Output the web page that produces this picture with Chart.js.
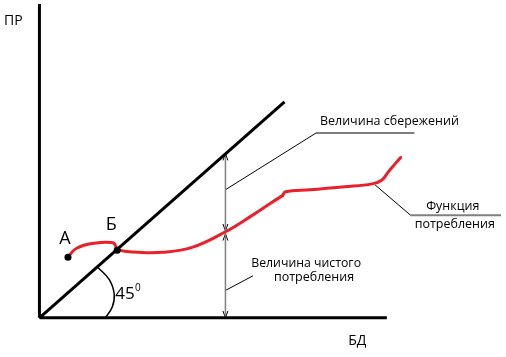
<!DOCTYPE html>
<html><head><meta charset="utf-8">
<script src="https://cdn.jsdelivr.net/npm/chart.js@4"></script>
<style>html,body{margin:0;padding:0;background:#fff}#wrap{width:506px;height:357px}</style>
</head><body><div id="wrap"><canvas id="c" width="506" height="357"></canvas></div>
<script>
// Axes (БД horizontal, ПР vertical), in diagram units from the origin
const axisX = [[0,0],[353,0]];
const axisY = [[0,0],[0,321]];
// 45° line
const line45 = [[0,0],[249,221]];
// Consumption function (red): A → Б, Б → middle, middle → end
const consumptionAB = [[29,62],[36,70],[48,75],[62,77],[73,77],[76,76],[79,69]];
const consumptionMid = [[79,69],[100,67],[125,67],[155,72],[189,88],[215,104],[236,118],[247,125]];
const consumptionEnd = [[247,125],[250,129],[275,131],[310,134],[338,137],[348,141],[355,150],[367,164]];
const pointA = [29,62];
const pointB = [79,69];
// 45° arc
const arc45 = [[67,0],[74,11],[76,24],[71,39],[59,52]];
// Measurement arrows at x = 189
const savingsArrow = [[189,168],[189,89]];
const netArrow = [[189,86],[189,0]];
const arrowTips = [[189,168,'up'],[189,89,'down'],[189,86,'up'],[189,0,'down']];
// Leader lines
const leaderSavings = [[189,131],[281,189]];
const shelfSavings = [[281,189],[381,189]];
const leaderNet = [[189,28],[217,43]];
const leaderFunc = [[341,136],[377,105]];
const shelfFunc = [[377,105],[469,105]];
// Text labels: [text, x, y, align, size]
const labels = [
  ['ПР',-36,304,'left',14],
  ['БД',323,-24,'center',14],
  ['А',26,81,'center',18],
  ['Б',73,95,'center',18],
  ['45',77,24,'left',17],
  ['0',97,30,'left',10],
  ['Величина сбережений',285,201,'left',12.5],
  ['Величина чистого',271,56,'center',12.3],
  ['потребления',279,41,'center',12.5],
  ['Функция',420,114,'center',12.5],
  ['потребления',422,95,'center',12.5]
];

const pts = a => a.map(p => ({x:p[0], y:p[1]}));
const seg = (data, color, width, extra) => Object.assign({
  data: pts(data), showLine: true, borderColor: color, borderWidth: width,
  pointRadius: 0, fill: false, tension: 0, clip: false, borderCapStyle: 'butt', order: 1
}, extra || {});
const red = {tension: 0.4, borderCapStyle: 'round', borderJoinStyle: 'round'};

const datasets = [
  seg(axisX, '#000', 3),
  seg(axisY, '#000', 3),
  seg(line45, '#000', 3),
  seg(arc45, '#000', 1.5, {tension: 0.4}),
  seg(consumptionAB, '#e8212b', 3, red),
  seg(consumptionMid, '#e8212b', 3, red),
  seg(consumptionEnd, '#e8212b', 3, red),
  seg(savingsArrow, '#7f7f7f', 1.5),
  seg(netArrow, '#7f7f7f', 1.5),
  seg(leaderSavings, '#000', 1),
  seg(shelfSavings, '#7f7f7f', 2),
  seg(leaderNet, '#000', 1),
  seg(leaderFunc, '#000', 1),
  seg(shelfFunc, '#7f7f7f', 2)
];
arrowTips.forEach(t => {
  const d = t[2] === 'up' ? -7 : 7;
  datasets.push(seg([[t[0]-2.5, t[1]+d],[t[0], t[1]],[t[0]+2.5, t[1]+d]], '#000', 1));
});
datasets.push({data: pts([pointA, pointB]), showLine: false, pointRadius: 3.5, pointBackgroundColor: '#000', pointBorderColor: '#000', pointBorderWidth: 0, clip: false, order: 0});

const textPlugin = {
  id: 'texts',
  afterDatasetsDraw(chart) {
    const ctx = chart.ctx, xs = chart.scales.x, ys = chart.scales.y;
    ctx.save();
    ctx.fillStyle = '#000';
    ctx.textBaseline = 'middle';
    labels.forEach(l => {
      ctx.font = l[4] + 'px "Open Sans", sans-serif';
      ctx.textAlign = l[3];
      ctx.fillText(l[0], xs.getPixelForValue(l[1]), ys.getPixelForValue(l[2]));
    });
    ctx.restore();
  }
};

new Chart(document.getElementById('c'), {
  type: 'scatter',
  data: {datasets},
  options: {
    responsive: false, animation: false,
    layout: {padding: 0},
    plugins: {legend: {display: false}, tooltip: {enabled: false}},
    scales: {
      x: {type: 'linear', display: false, min: -36, max: 470},
      y: {type: 'linear', display: false, min: -36, max: 321}
    }
  },
  plugins: [textPlugin]
});
</script></body></html>
